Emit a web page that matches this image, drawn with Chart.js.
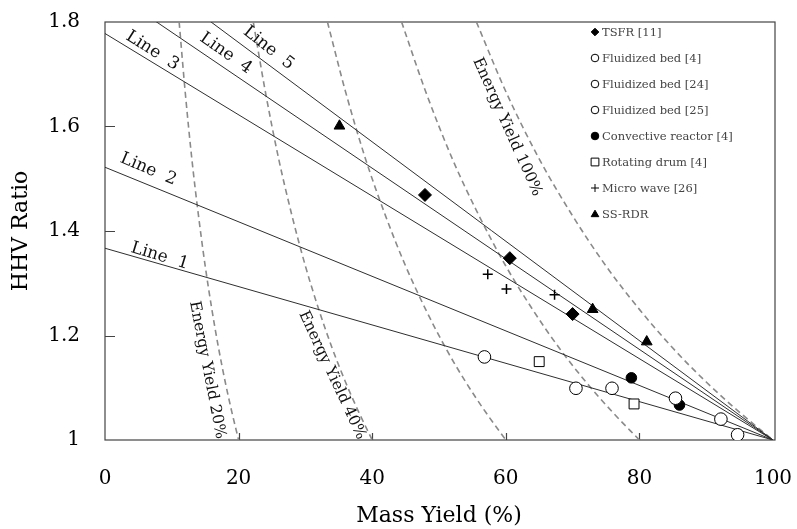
<!DOCTYPE html>
<html lang="en">
<head>
  <meta charset="UTF-8">
  <title>HHV Ratio vs Mass Yield</title>
  <script src="https://cdn.jsdelivr.net/npm/chart.js@4.4.0/dist/chart.umd.min.js"></script>
  <style>
    html, body { margin: 0; padding: 0; background: #fff; }
  </style>
</head>
<body>
  <canvas id="chart" width="797" height="529"></canvas>
  <script>
    // --- data ---
    const xTicks = [0, 20, 40, 60, 80, 100];
    const yTicks = [1, 1.2, 1.4, 1.6, 1.8];

    // straight reference lines (mass yield 0 -> 100)
    const lineX = [0, 100];
    const line1 = [1.367, 1];
    const line2 = [1.522, 1];
    const line3 = [1.778, 1];
    const line4 = [1.867, 1];
    const line5 = [1.951, 1];

    // energy yield iso-curves: HHV ratio values shared, mass yields per curve
    const curveHHV = [1.8, 1.667, 1.538, 1.429, 1.333, 1.25, 1.176, 1.111, 1.053, 1.0];
    const ey20 = [11.1, 12, 13, 14, 15, 16, 17, 18, 19, 20];
    const ey40 = [22.2, 24, 26, 28, 30, 32, 34, 36, 38, 40];
    const ey60 = [33.3, 36, 39, 42, 45, 48, 51, 54, 57, 60];
    const ey80 = [44.4, 48, 52, 56, 60, 64, 68, 72, 76, 80];
    const ey100 = [55.6, 60, 65, 70, 75, 80, 85, 90, 95, 100];

    // measured points
    const tsfrX = [47.9, 60.6, 70.0],   tsfrY = [1.469, 1.348, 1.241];
    const fb4X = [56.8, 85.4],          fb4Y = [1.159, 1.080];
    const fb24X = [70.5, 75.9],         fb24Y = [1.099, 1.099];
    const fb25X = [92.2, 94.7],         fb25Y = [1.040, 1.010];
    const convX = [78.8, 86.0],         convY = [1.119, 1.067];
    const drumX = [65.0, 79.2],         drumY = [1.150, 1.069];
    const microX = [57.3, 60.1, 67.3],  microY = [1.317, 1.289, 1.278];
    const ssX = [35.1, 73.0, 81.1],     ssY = [1.601, 1.250, 1.188];

    const FONT = '"DejaVu Serif", "Liberation Serif", serif';
    const pts = (xs, ys) => xs.map((v, i) => ({x: v, y: ys[i]}));

    function lineSet(ys) {
      return {
        data: pts(lineX, ys), showLine: true, pointRadius: 0,
        borderColor: '#2e2e2e', borderWidth: 1, order: 2
      };
    }
    function curveSet(xs) {
      return {
        data: pts(xs, curveHHV), showLine: true, pointRadius: 0,
        borderColor: '#8a8a8a', borderWidth: 1.6, borderDash: [6, 4],
        cubicInterpolationMode: 'monotone', order: 3
      };
    }
    function markSet(label, xs, ys, style, radius, fill) {
      return {
        label: label, data: pts(xs, ys), showLine: false,
        pointStyle: style, pointRadius: radius, pointHoverRadius: radius,
        pointBackgroundColor: fill, pointBorderColor: '#000',
        pointBorderWidth: style === 'cross' ? 1.5 : 1, order: 0
      };
    }

    const marks = [
      markSet('TSFR [11]', tsfrX, tsfrY, 'rectRot', 6.5, '#000'),
      markSet('Fluidized bed [4]', fb4X, fb4Y, 'circle', 6.3, '#fff'),
      markSet('Fluidized bed [24]', fb24X, fb24Y, 'circle', 6.3, '#fff'),
      markSet('Fluidized bed [25]', fb25X, fb25Y, 'circle', 6.3, '#fff'),
      markSet('Convective reactor [4]', convX, convY, 'circle', 5.3, '#000'),
      markSet('Rotating drum [4]', drumX, drumY, 'rect', 7, '#fff'),
      markSet('Micro wave [26]', microX, microY, 'cross', 5, '#000'),
      markSet('SS-RDR', ssX, ssY, 'triangle', 6.2, '#000')
    ];

    function drawMarker(ctx, style, r, fill, x, y) {
      ctx.beginPath();
      if (style === 'rectRot') {
        ctx.moveTo(x - r, y); ctx.lineTo(x, y - r); ctx.lineTo(x + r, y); ctx.lineTo(x, y + r); ctx.closePath();
      } else if (style === 'circle') {
        ctx.arc(x, y, r, 0, Math.PI * 2);
      } else if (style === 'rect') {
        const s = r * Math.SQRT1_2;
        ctx.rect(x - s, y - s, 2 * s, 2 * s);
      } else if (style === 'cross') {
        ctx.moveTo(x - r, y); ctx.lineTo(x + r, y); ctx.moveTo(x, y - r); ctx.lineTo(x, y + r);
      } else if (style === 'triangle') {
        ctx.moveTo(x, y - r); ctx.lineTo(x + r, y + r * 0.7); ctx.lineTo(x - r, y + r * 0.7); ctx.closePath();
      }
      if (style !== 'cross') { ctx.fillStyle = fill; ctx.fill(); }
      ctx.strokeStyle = '#000'; ctx.lineWidth = 1; ctx.stroke();
    }

    const decorPlugin = {
      id: 'decor',
      beforeDatasetsDraw(chart) {
        const {ctx, chartArea: a, scales: {x, y}} = chart;
        ctx.save();
        ctx.strokeStyle = '#444';
        ctx.lineWidth = 1.2;
        ctx.strokeRect(a.left, a.top, a.right - a.left + 2, a.bottom - a.top);
        ctx.beginPath();
        xTicks.slice(1, -1).forEach(v => {
          const px = Math.round(x.getPixelForValue(v)) + 0.5;
          ctx.moveTo(px, a.bottom); ctx.lineTo(px, a.bottom - 7);
        });
        yTicks.slice(1, -1).forEach(v => {
          const py = Math.round(y.getPixelForValue(v)) + 0.5;
          ctx.moveTo(a.left, py); ctx.lineTo(a.left + 10, py);
        });
        ctx.stroke();
        ctx.restore();
      },
      afterDatasetsDraw(chart, args, opts) {
        const {ctx, chartArea: a, scales: {x, y}} = chart;
        ctx.save();
        ctx.fillStyle = '#111';
        ctx.textAlign = 'center';
        ctx.textBaseline = 'middle';
        opts.notes.forEach(n => {
          ctx.save();
          ctx.font = n.size + 'px ' + FONT;
          ctx.translate(x.getPixelForValue(n.x), y.getPixelForValue(n.y));
          ctx.rotate(n.angle * Math.PI / 180);
          ctx.fillText(n.text, 0, 0);
          ctx.restore();
        });
        // legend inside the plot, top right
        ctx.font = '11.5px ' + FONT;
        ctx.textAlign = 'left';
        const lx = a.right - 178, ly = a.top + 10;
        marks.forEach((m, i) => {
          const yy = ly + i * 26;
          const r = m.pointStyle === 'rect' ? 5.5 : m.pointStyle === 'cross' ? 4 : 3.8;
          drawMarker(ctx, m.pointStyle, r, m.pointBackgroundColor, lx, yy);
          ctx.fillStyle = '#444';
          ctx.fillText(m.label, lx + 7, yy + 1);
        });
        ctx.restore();
      }
    };

    new Chart(document.getElementById('chart'), {
      type: 'scatter',
      data: {
        datasets: [
          ...marks,
          lineSet(line1), lineSet(line2), lineSet(line3), lineSet(line4), lineSet(line5),
          curveSet(ey20), curveSet(ey40), curveSet(ey60), curveSet(ey80), curveSet(ey100)
        ]
      },
      options: {
        responsive: false,
        animation: false,
        layout: { padding: { top: 22, right: 24, left: 0, bottom: 0 } },
        scales: {
          x: {
            type: 'linear', min: 0, max: 100,
            afterBuildTicks: s => { s.ticks = xTicks.map(v => ({value: v})); },
            afterFit: s => { s.height = 89; s.paddingLeft = 0; s.paddingRight = 0; },
            grid: { display: false, drawTicks: false },
            border: { display: false },
            ticks: { color: '#000', padding: 27, font: { family: FONT, size: 20 } },
            title: { display: true, text: 'Mass Yield (%)', color: '#000', padding: { top: 0, bottom: 0 },
                     font: { family: FONT, size: 22 } }
          },
          y: {
            type: 'linear', min: 1, max: 1.8,
            afterBuildTicks: s => { s.ticks = yTicks.map(v => ({value: v})); },
            afterFit: s => { s.width = 105; s.paddingTop = 0; s.paddingBottom = 0; },
            grid: { display: false, drawTicks: false },
            border: { display: false },
            ticks: { color: '#000', padding: 25, font: { family: FONT, size: 20 },
                     callback: v => String(Math.round(v * 10) / 10) },
            title: { display: true, text: 'HHV Ratio', color: '#000', padding: { top: 8, bottom: 0 },
                     font: { family: FONT, size: 22 } }
          }
        },
        plugins: {
          legend: { display: false },
          tooltip: { enabled: false },
          decor: {
            notes: [
              {text: 'Line  1', x: 8.2, y: 1.352, angle: 17, size: 17},
              {text: 'Line  2', x: 6.5, y: 1.518, angle: 23, size: 17},
              {text: 'Line  3', x: 7.1, y: 1.745, angle: 32, size: 17},
              {text: 'Line  4', x: 18.1, y: 1.740, angle: 35, size: 17},
              {text: 'Line  5', x: 24.5, y: 1.750, angle: 38, size: 17},
              {text: 'Energy Yield 20%', x: 15.3, y: 1.134, angle: 79, size: 15.5},
              {text: 'Energy Yield 40%', x: 34.0, y: 1.124, angle: 65, size: 15.5},
              {text: 'Energy Yield 100%', x: 60.2, y: 1.599, angle: 66, size: 15.5}
            ]
          }
        }
      },
      plugins: [decorPlugin]
    });
  </script>
</body>
</html>
